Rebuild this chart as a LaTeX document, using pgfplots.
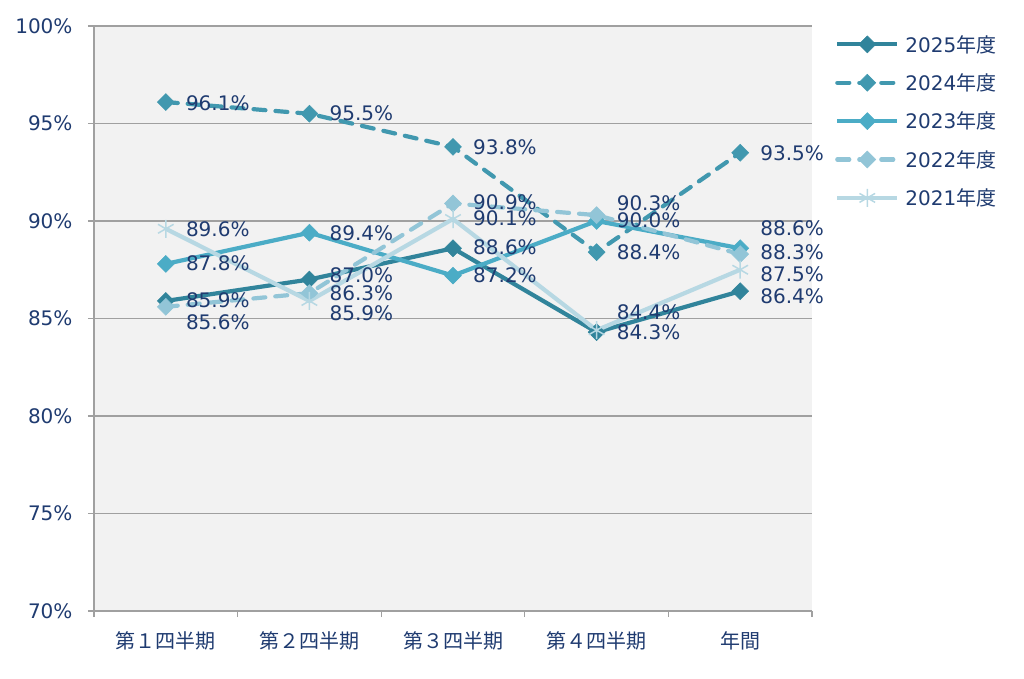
\documentclass[border=0pt]{standalone}
\usepackage{pgfplots}
\usepackage{pgfplotstable}
\pgfplotsset{compat=1.18}
\usepackage{fontspec}
\setmainfont{DejaVu Sans}
\newfontfamily\jp{Noto Sans CJK JP}
\definecolor{navy}{HTML}{1F3B70}
\definecolor{c25}{HTML}{31849B}
\definecolor{c24}{HTML}{4198AF}
\definecolor{c23}{HTML}{4BACC6}
\definecolor{c22}{HTML}{92C5D7}
\definecolor{c21}{HTML}{B7D8E3}
\definecolor{gridc}{HTML}{A0A0A0}
\definecolor{bg}{HTML}{F2F2F2}

\pgfplotstableread{
x y
0 85.9
1 87.0
2 88.6
3 84.3
4 86.4
}\tA
\pgfplotstableread{
x y
0 96.1
1 95.5
2 93.8
3 88.4
4 93.5
}\tB
\pgfplotstableread{
x y
0 87.8
1 89.4
2 87.2
3 90.0
4 88.6
}\tC
\pgfplotstableread{
x y
0 85.6
1 86.3
2 90.9
3 90.3
4 88.3
}\tD
\pgfplotstableread{
x y
0 89.6
1 85.9
2 90.1
3 84.4
4 87.5
}\tE
\pgfplotstableread{
x y lab
0 96.05 96.1
0 89.59 89.6
0 87.85 87.8
0 85.95 85.9
0 84.82 85.6
1 95.54 95.5
1 89.38 89.4
1 87.23 87.0
1 86.31 86.3
1 85.28 85.9
2 93.79 93.8
2 90.97 90.9
2 90.15 90.1
2 88.67 88.6
2 87.23 87.2
3 90.92 90.3
3 90.05 90.0
3 88.41 88.4
3 85.33 84.4
3 84.31 84.3
4 93.49 93.5
4 89.64 88.6
4 88.41 88.3
4 87.28 87.5
4 86.15 86.4
}\tL

\newcommand{\fs}{\fontsize{20}{24}\selectfont}

\begin{document}
\begin{tikzpicture}
\useasboundingbox (0,0) rectangle (1024pt,679pt);
\begin{axis}[
  at={(94pt,68pt)}, anchor=south west,
  scale only axis, width=718pt, height=585pt,
  xmin=-0.5, xmax=4.5, ymin=70, ymax=100,
  ytick={70,75,...,100},
  yticklabel={\pgfmathprintnumber[assume math mode=true]{\tick}\%},
  xtick={-0.5,0.5,...,4.5},
  xticklabels={,,,,,},
  extra x ticks={0,1,2,3,4},
  extra x tick labels={{\jp 第１四半期},{\jp 第２四半期},{\jp 第３四半期},{\jp 第４四半期},{\jp 年間}},
  extra x tick style={major tick length=0pt, xticklabel style={yshift=-17pt}},
  tick align=outside,
  major tick length=6pt,
  ymajorgrids, grid style={gridc, line width=1.3pt},
  axis x line*=bottom, axis y line*=left,
  axis line style={gridc, line width=1.3pt, -},
  axis background/.style={fill=bg},
  tick style={gridc, line width=1.3pt},
  ticklabel style={font=\fs, text=navy},
  yticklabel style={xshift=-12pt},
  clip=false,
  legend style={at={(1,1)}, anchor=north west, xshift=20pt, yshift=-5pt,
    draw=none, fill=none, font=\fs, text=navy, row sep=16pt,
    /tikz/every odd column/.append style={column sep=4pt}},
  legend cell align=left,
  legend image code/.code={\draw[mark repeat=2,mark phase=2] plot coordinates {(0pt,0pt)(30pt,0pt)(60pt,0pt)};},
]
\addplot[c25, line width=4.2pt, mark=square*, mark size=6pt, mark options={rotate=45, solid, line width=0.5pt}] table {\tA};
\addlegendentry{2025{\jp 年度}}
\addplot[c24, line width=4.2pt, line cap=round, dash pattern=on 12pt off 10pt, mark=square*, mark size=6pt, mark options={rotate=45, solid, line width=0.5pt}] table {\tB};
\addlegendentry{2024{\jp 年度}}
\addplot[c23, line width=4.2pt, mark=square*, mark size=6pt, mark options={rotate=45, solid, line width=0.5pt}] table {\tC};
\addlegendentry{2023{\jp 年度}}
\addplot[c22, line width=4.2pt, line cap=round, dash pattern=on 12pt off 10pt, mark=square*, mark size=6pt, mark options={rotate=45, solid, line width=0.5pt}] table {\tD};
\addlegendentry{2022{\jp 年度}}
\addplot[c21, line width=4.2pt, mark=asterisk, mark size=9pt, mark options={solid, line width=1.5pt}] table {\tE};
\addlegendentry{2021{\jp 年度}}
\addplot[forget plot, draw=none, mark=none, nodes near coords={\pgfplotspointmeta\%}, point meta=explicit symbolic,
  nodes near coords style={anchor=west, inner sep=0pt, xshift=20pt, text=navy, font=\fs}] table[meta=lab] {\tL};
\end{axis}
\end{tikzpicture}
\end{document}
